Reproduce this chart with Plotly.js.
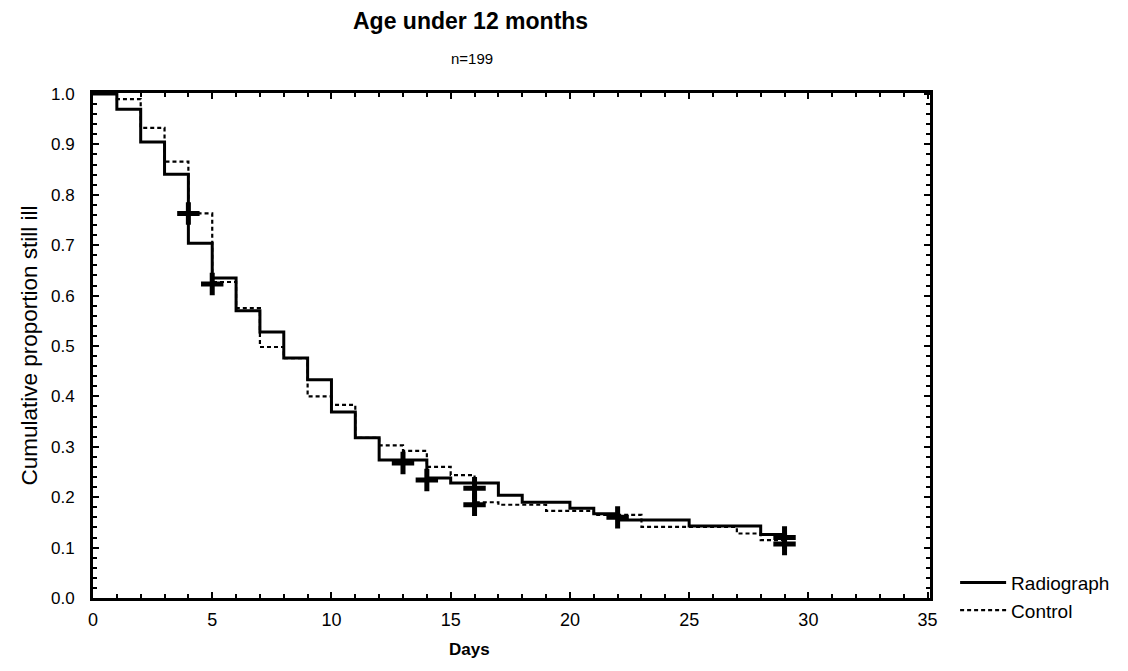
<!DOCTYPE html>
<html>
<head>
<meta charset="utf-8">
<script src="https://cdn.plot.ly/plotly-3.0.1.min.js"></script>
<style>html,body{margin:0;padding:0;background:#fff;}#chart{width:1128px;height:671px;}</style>
</head>
<body>
<div id="chart"></div>
<script>
// Kaplan-Meier style step data (days, cumulative proportion still ill)
const radiographDays   = [0, 1, 2, 3, 4, 5, 6, 7, 8, 9, 10, 11, 12, 14, 15, 17, 18, 20, 21, 22, 25, 28, 29];
const radiographValues = [1.0, 0.97, 0.905, 0.841, 0.704, 0.635, 0.570, 0.528, 0.476, 0.433, 0.369, 0.318, 0.274, 0.238, 0.228, 0.204, 0.19, 0.178, 0.167, 0.155, 0.143, 0.126, 0.126];
const controlDays   = [0, 1, 2, 3, 4, 5, 6, 7, 8, 9, 10, 11, 12, 13, 14, 15, 16, 17, 19, 21, 23, 27, 28, 29];
const controlValues = [1.0, 0.99, 0.933, 0.866, 0.763, 0.627, 0.575, 0.498, 0.476, 0.40, 0.383, 0.318, 0.303, 0.292, 0.26, 0.244, 0.19, 0.185, 0.173, 0.165, 0.141, 0.128, 0.115, 0.115];
// censored observations
const radiographCensorDays   = [5, 13, 14, 16, 22, 29];
const radiographCensorValues = [0.623, 0.268, 0.234, 0.218, 0.16, 0.12];
const controlCensorDays   = [4, 16, 29];
const controlCensorValues = [0.763, 0.185, 0.107];
const seriesNames = ["Radiograph", "Control"];

const FONT = "Liberation Sans, Arial, Helvetica, sans-serif";

const traces = [
  {x: radiographDays, y: radiographValues, name: seriesNames[0], mode: "lines",
   line: {shape: "hv", color: "#000", width: 3}},
  {x: controlDays, y: controlValues, name: seriesNames[1], mode: "lines",
   line: {shape: "hv", color: "#000", width: 2.2, dash: "4px,3px"}},
  {x: radiographCensorDays, y: radiographCensorValues, mode: "markers", showlegend: false, hoverinfo: "x+y",
   marker: {symbol: "cross-thin", size: 16, line: {color: "#000", width: 5}}},
  {x: controlCensorDays, y: controlCensorValues, mode: "markers", showlegend: false, hoverinfo: "x+y",
   marker: {symbol: "cross-thin", size: 16, line: {color: "#000", width: 5}}}
];

const layout = {
  width: 1128, height: 671,
  paper_bgcolor: "#fff", plot_bgcolor: "#fff",
  font: {family: FONT, color: "#000", size: 17},
  margin: {l: 93, r: 198, t: 93, b: 73},
  showlegend: true,
  legend: {x: 1.03, y: 0.068, xanchor: "left", yanchor: "top", font: {size: 19}, bgcolor: "rgba(0,0,0,0)",
           tracegroupgap: 0, itemwidth: 46},
  xaxis: {
    range: [0, 35.1], tickmode: "linear", tick0: 0, dtick: 5,
    showgrid: false, zeroline: false,
    showline: true, linecolor: "#000", linewidth: 3, mirror: "ticks",
    ticks: "inside", ticklen: 6, tickwidth: 2, tickcolor: "#000",
    minor: {dtick: 1, ticks: "inside", ticklen: 4, tickwidth: 2, tickcolor: "#000", showgrid: false},
    ticklabelstandoff: 3,
    tickfont: {size: 18}
  },
  yaxis: {
    range: [0, 1.002], tickmode: "linear", tick0: 0, dtick: 0.1, tickformat: ".1f",
    showgrid: false, zeroline: false,
    showline: true, linecolor: "#000", linewidth: 3, mirror: "ticks",
    ticks: "inside", ticklen: 6, tickwidth: 2, tickcolor: "#000",
    minor: {dtick: 0.02, ticks: "inside", ticklen: 4, tickwidth: 2, tickcolor: "#000", showgrid: false},
    ticklabelstandoff: 12,
    tickfont: {size: 17},
    title: {text: "Cumulative proportion still ill", font: {size: 22.5}, standoff: 8}
  },
  annotations: [
    {text: "<b>Age under 12 months</b>", xref: "paper", yref: "paper", x: 0.451, y: 1.0, yshift: 72,
     xanchor: "center", yanchor: "middle", showarrow: false, font: {size: 23}},
    {text: "n=199", xref: "paper", yref: "paper", x: 0.453, y: 1.0, yshift: 35,
     xanchor: "center", yanchor: "middle", showarrow: false, font: {size: 15}},
    {text: "<b>Days</b>", xref: "paper", yref: "paper", x: 0.45, y: 0, yshift: -51,
     xanchor: "center", yanchor: "middle", showarrow: false, font: {size: 17}}
  ]
};

Plotly.newPlot("chart", traces, layout, {displayModeBar: false, staticPlot: true});
</script>
</body>
</html>
